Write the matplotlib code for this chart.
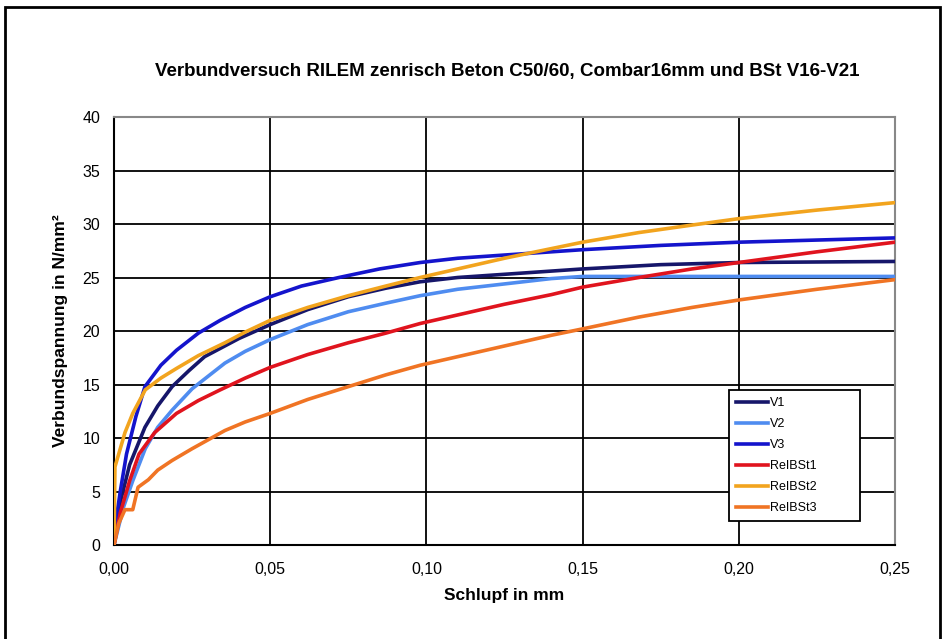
import matplotlib
matplotlib.use("Agg")
import matplotlib.pyplot as plt
from matplotlib.patches import Rectangle

plt.rcParams['font.family'] = ['Liberation Sans Narrow', 'Liberation Sans', 'DejaVu Sans']

# Schlupf (mm) / Verbundspannung (N/mm²)
v1_x = [0.0, 0.002, 0.005, 0.0099, 0.014, 0.0186, 0.024, 0.029, 0.04, 0.05, 0.062, 0.075, 0.087,
        0.098, 0.11, 0.125, 0.15, 0.175, 0.2, 0.25]
v1_y = [0.0, 4.0, 7.5, 11.0, 13.0, 14.8, 16.3, 17.6, 19.3, 20.6, 22.0, 23.2, 24.0,
        24.6, 25.0, 25.3, 25.8, 26.2, 26.4, 26.5]

v2_x = [0.0, 0.003, 0.006, 0.01, 0.014, 0.0186, 0.025, 0.0355, 0.042, 0.05, 0.062, 0.075, 0.087,
        0.098, 0.11, 0.125, 0.14, 0.15, 0.2, 0.25]
v2_y = [0.0, 3.5, 6.0, 9.0, 11.0, 12.6, 14.6, 17.0, 18.1, 19.2, 20.6, 21.8, 22.6,
        23.3, 23.9, 24.4, 24.9, 25.1, 25.1, 25.1]

v3_x = [0.0, 0.001, 0.002, 0.004, 0.007, 0.0099, 0.015, 0.02, 0.027, 0.034, 0.042, 0.05, 0.06,
        0.072, 0.085, 0.098, 0.11, 0.125, 0.15, 0.175, 0.2, 0.225, 0.25]
v3_y = [0.0, 3.0, 5.0, 8.5, 12.0, 14.8, 16.8, 18.2, 19.8, 21.0, 22.2, 23.2, 24.2,
        25.0, 25.8, 26.4, 26.8, 27.1, 27.6, 28.0, 28.3, 28.5, 28.7]

r1_x = [0.0, 0.002, 0.005, 0.008, 0.013, 0.02, 0.027, 0.034, 0.042, 0.05, 0.062, 0.075, 0.087,
        0.098, 0.11, 0.125, 0.14, 0.15, 0.168, 0.185, 0.2, 0.225, 0.25]
r1_y = [0.0, 3.0, 6.0, 8.5, 10.5, 12.3, 13.5, 14.5, 15.6, 16.6, 17.8, 18.9, 19.8,
        20.7, 21.5, 22.5, 23.4, 24.1, 25.0, 25.8, 26.4, 27.4, 28.3]

r2_x = [0.0, 0.0003, 0.0035, 0.006, 0.01, 0.015, 0.02, 0.027, 0.0355, 0.042, 0.05, 0.062, 0.075,
        0.087, 0.098, 0.11, 0.125, 0.14, 0.15, 0.168, 0.185, 0.2, 0.225, 0.25]
r2_y = [0.0, 7.3, 10.5, 12.3, 14.5, 15.6, 16.5, 17.7, 18.9, 19.9, 21.0, 22.2, 23.3,
        24.2, 25.0, 25.8, 26.8, 27.7, 28.3, 29.2, 29.9, 30.5, 31.3, 32.0]

r3_x = [0.0, 0.0015, 0.0035, 0.006, 0.0077, 0.011, 0.014, 0.0186, 0.025, 0.0355, 0.042, 0.05,
        0.062, 0.075, 0.087, 0.098, 0.11, 0.125, 0.14, 0.15, 0.168, 0.185, 0.2, 0.225, 0.25]
r3_y = [0.0, 2.0, 3.3, 3.3, 5.4, 6.1, 7.0, 7.9, 9.0, 10.7, 11.5, 12.3,
        13.6, 14.8, 15.9, 16.8, 17.6, 18.6, 19.6, 20.2, 21.3, 22.2, 22.9, 23.9, 24.8]

series = [
    ("V1", v1_x, v1_y, "#16166a"),
    ("V2", v2_x, v2_y, "#4f8cf0"),
    ("V3", v3_x, v3_y, "#1414cc"),
    ("ReIBSt1", r1_x, r1_y, "#e0141e"),
    ("ReIBSt2", r2_x, r2_y, "#f2a41e"),
    ("ReIBSt3", r3_x, r3_y, "#f07424"),
]

x_ticks = [0.0, 0.05, 0.10, 0.15, 0.20, 0.25]
x_labels = ["0,00", "0,05", "0,10", "0,15", "0,20", "0,25"]
y_ticks = [0, 5, 10, 15, 20, 25, 30, 35, 40]

fig = plt.figure(figsize=(9.43, 6.39), dpi=100)
ax = fig.add_axes([0.1209, 0.1471, 0.8282, 0.6698])

for name, xs, ys, col in series:
    ax.plot(xs, ys, color=col, lw=2.6, label=name, zorder=3, solid_joinstyle="round")

ax.set_xlim(0, 0.25)
ax.set_ylim(0, 40)
ax.set_xticks(x_ticks)
ax.set_xticklabels(x_labels)
ax.set_yticks(y_ticks)
ax.grid(True, color="black", lw=1.3)
ax.tick_params(length=0, labelsize=11.5, pad=12)
ax.tick_params(axis="y", pad=10)
for s in ["top", "right"]:
    ax.spines[s].set_color("#888888")
    ax.spines[s].set_linewidth(1.5)
for s in ["left", "bottom"]:
    ax.spines[s].set_color("black")
    ax.spines[s].set_linewidth(1.5)

ax.set_xlabel("Schlupf in mm", fontsize=12.5, fontweight="bold", labelpad=8)
ax.set_ylabel("Verbundspannung in N/mm²", fontsize=12.5, fontweight="bold", labelpad=10)
fig.text(0.538, 0.888, "Verbundversuch RILEM zenrisch Beton C50/60, Combar16mm und BSt V16-V21",
         ha="center", va="center", fontsize=13.5, fontweight="bold")

leg = ax.legend(loc="lower left", bbox_to_anchor=(0.78, 0.042, 0.183, 0.304), mode="expand",
                frameon=True, fancybox=False, fontsize=9, handlelength=2.5,
                labelspacing=0.72, borderpad=0.55, handletextpad=0.2)
leg.get_frame().set_edgecolor("black")
leg.get_frame().set_linewidth(1.3)
leg.get_frame().set_alpha(1)

fig.add_artist(Rectangle((5 / 943, -0.05), 935 / 943, 1.05 - 7 / 639,
                         transform=fig.transFigure, fill=False, ec="black", lw=2))

fig.savefig("out.png", dpi=100)
